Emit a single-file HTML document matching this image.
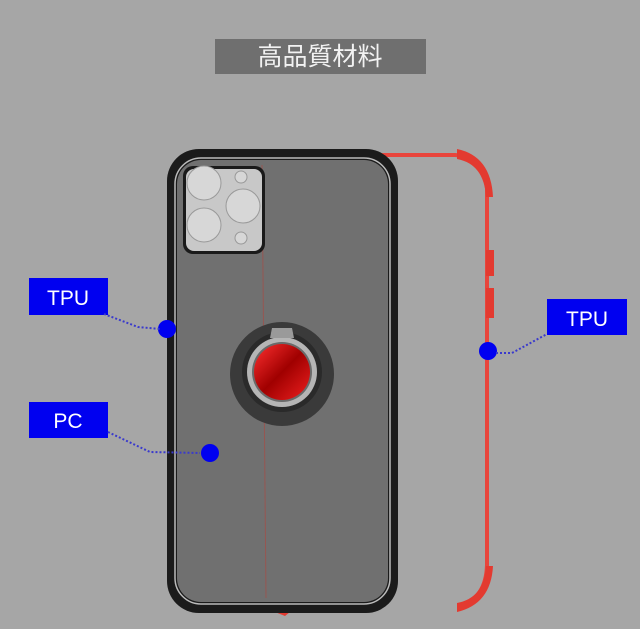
<!DOCTYPE html>
<html><head><meta charset="utf-8"><style>
html,body{margin:0;padding:0;width:640px;height:629px;overflow:hidden;background:#a6a6a6;}
svg{display:block}
text{font-family:"Liberation Sans","Noto Sans CJK JP",sans-serif;}
</style></head><body>
<svg width="640" height="629" viewBox="0 0 640 629" xmlns="http://www.w3.org/2000/svg">
<defs>
<linearGradient id="rg" x1="0" y1="0" x2="1" y2="1">
<stop offset="0" stop-color="#ff3030"/><stop offset="0.5" stop-color="#a00000"/><stop offset="1" stop-color="#ee2020"/>
</linearGradient>
</defs>
<rect width="640" height="629" fill="#a6a6a6"/>
<rect x="215" y="39" width="211" height="35" fill="#6f6f6f"/>
<text x="320" y="65" font-size="25" fill="#f2f2f2" text-anchor="middle">高品質材料</text>
<!-- red bumper -->
<path d="M380 155 L455 155 Q485 157 487 188 L487 565 Q486 598 460 606" fill="none" stroke="#e8453c" stroke-width="4"/>
<path d="M457 149 Q491 156 493 197 L486 197 Q484 164 457 159 Z" fill="#e33a30"/>
<path d="M457 612 Q491 604 493 566 L486 566 Q484 598 457 603 Z" fill="#e33a30"/>
<rect x="486" y="250" width="8" height="26" fill="#e33a30"/>
<rect x="486" y="288" width="8" height="30" fill="#e33a30"/>
<path d="M272 605 L290 612 L285 616 L275 612 Z" fill="#e33a30"/>
<!-- phone -->
<rect x="167" y="149" width="231" height="464" rx="32" fill="#1b1b1b"/>
<rect x="175" y="158" width="215" height="446" rx="26" fill="none" stroke="#bbbbbb" stroke-width="1.5"/>
<rect x="177" y="160" width="211" height="442" rx="24" fill="#707070"/>
<line x1="262" y1="165" x2="266" y2="598" stroke="#b0453e" stroke-width="1" opacity="0.6"/>
<rect x="183" y="166" width="82" height="88" rx="10" fill="#1a1a1a"/>
<rect x="186" y="169" width="76" height="82" rx="8" fill="#c8c8c8"/>
<circle cx="204" cy="183" r="17" fill="#d7d7d7" stroke="#999" stroke-width="1"/>
<circle cx="204" cy="225" r="17" fill="#d7d7d7" stroke="#999" stroke-width="1"/>
<circle cx="243" cy="206" r="17" fill="#d7d7d7" stroke="#999" stroke-width="1"/>
<circle cx="241" cy="177" r="6" fill="#d7d7d7" stroke="#999"/>
<circle cx="241" cy="238" r="6" fill="#d7d7d7" stroke="#999"/>
<!-- ring -->
<circle cx="282" cy="374" r="52" fill="#3a3a3a"/>
<circle cx="282" cy="372" r="40" fill="#2a2a2a"/>
<circle cx="282" cy="372" r="35" fill="#b5b5b5"/>
<circle cx="282" cy="372" r="30" fill="#6a6a6a"/>
<circle cx="282" cy="372" r="28" fill="url(#rg)"/>
<path d="M270 338 L294 338 L292 328 L272 328 Z" fill="#9a9a9a"/>
<g fill="#0000f0">
<rect x="29" y="278" width="79" height="37"/>
<rect x="29" y="402" width="79" height="36"/>
<rect x="547" y="299" width="80" height="36"/>
<circle cx="167" cy="329" r="9"/>
<circle cx="210" cy="453" r="9"/>
<circle cx="488" cy="351" r="9"/>
</g>
<g stroke="#3a3acc" stroke-width="2" stroke-dasharray="2,2" fill="none">
<path d="M104 314 L138 327 L160 329"/>
<path d="M108 432 L150 452 L200 453"/>
<path d="M496 353 L512 353 L547 334"/>
</g>
<g fill="#ffffff" font-size="21" text-anchor="middle">
<text x="68" y="305">TPU</text>
<text x="68" y="428">PC</text>
<text x="587" y="326">TPU</text>
</g>
</svg>
</body></html>
